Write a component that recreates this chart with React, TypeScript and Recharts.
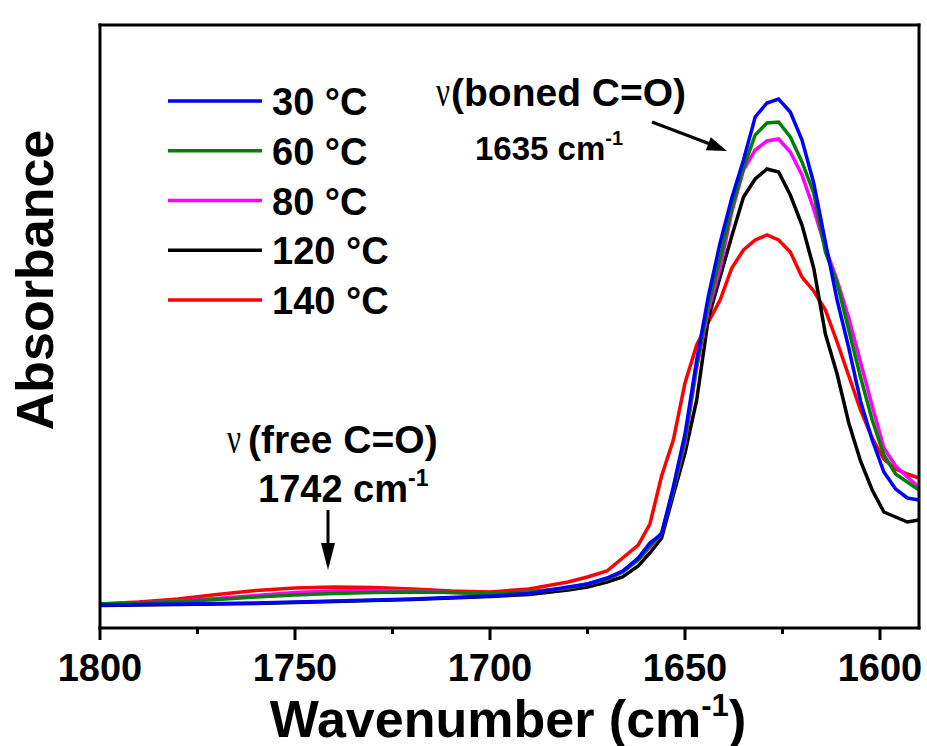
import React from "react";
import { LineChart, Line, XAxis, YAxis, Legend, Label } from "recharts";

// wavenumber grid (cm-1)
const wavenumbers = [
  1800, 1790, 1780, 1770, 1760, 1750, 1740, 1730, 1720, 1710, 1700, 1690, 1680, 1675, 1670, 1666,
  1662, 1659, 1656, 1653, 1650, 1647, 1644, 1641, 1638, 1635, 1632, 1629, 1626, 1623, 1620, 1617,
  1614, 1611, 1608, 1605, 1602, 1599, 1596, 1593, 1590,
];

// absorbance (a.u.) per temperature
const abs30 = [
  0.023, 0.0235, 0.024, 0.0245, 0.025, 0.026, 0.027, 0.028, 0.029, 0.0305, 0.032, 0.0345, 0.041, 0.044, 0.05, 0.057,
  0.07, 0.085, 0.094, 0.141, 0.194, 0.268, 0.332, 0.385, 0.43, 0.468, 0.511, 0.525, 0.529, 0.516, 0.488, 0.445,
  0.386, 0.328, 0.28, 0.227, 0.188, 0.156, 0.139, 0.13, 0.128,
];
const abs60 = [
  0.024, 0.025, 0.0265, 0.0285, 0.031, 0.033, 0.0345, 0.0355, 0.036, 0.0355, 0.0345, 0.036, 0.04, 0.044, 0.049, 0.056,
  0.068, 0.082, 0.095, 0.138, 0.188, 0.263, 0.323, 0.37, 0.42, 0.46, 0.493, 0.505, 0.506, 0.491, 0.466, 0.435,
  0.376, 0.345, 0.298, 0.251, 0.208, 0.173, 0.154, 0.146, 0.138,
];
const abs80 = [
  0.024, 0.025, 0.027, 0.0295, 0.0325, 0.0355, 0.037, 0.0375, 0.037, 0.0355, 0.034, 0.036, 0.04, 0.044, 0.049, 0.056,
  0.068, 0.081, 0.094, 0.138, 0.185, 0.26, 0.318, 0.36, 0.416, 0.458, 0.478, 0.487, 0.489, 0.476, 0.453, 0.419,
  0.38, 0.348, 0.31, 0.266, 0.222, 0.18, 0.162, 0.151, 0.141,
];
const abs120 = [
  0.0225, 0.023, 0.0235, 0.024, 0.0245, 0.0255, 0.0265, 0.0275, 0.0285, 0.03, 0.0315, 0.0335, 0.038, 0.041, 0.046, 0.051,
  0.062, 0.075, 0.09, 0.133, 0.175, 0.228, 0.31, 0.351, 0.392, 0.431, 0.449, 0.459, 0.456, 0.433, 0.403, 0.36,
  0.294, 0.254, 0.205, 0.167, 0.138, 0.116, 0.111, 0.106, 0.108,
];
const abs140 = [
  0.024, 0.026, 0.029, 0.0335, 0.0375, 0.04, 0.041, 0.0405, 0.039, 0.037, 0.036, 0.039, 0.046, 0.051, 0.057, 0.07,
  0.083, 0.104, 0.152, 0.188, 0.245, 0.283, 0.306, 0.328, 0.36, 0.378, 0.388, 0.393, 0.388, 0.376, 0.351, 0.337,
  0.318, 0.286, 0.252, 0.218, 0.19, 0.169, 0.159, 0.154, 0.15,
];

const seriesKeys = ["t30", "t60", "t80", "t120", "t140"];
const seriesLabels = ["30 °C", "60 °C", "80 °C", "120 °C", "140 °C"];
const seriesColors = ["#0000ff", "#008000", "#ff00ff", "#000000", "#ff0000"];
const seriesValues = [abs30, abs60, abs80, abs120, abs140];

const xTicks = [1800, 1775, 1750, 1725, 1700, 1675, 1650, 1625, 1600];
const majorTicks = [1800, 1750, 1700, 1650, 1600];

const data = wavenumbers.map((wn, i) => {
  const row: Record<string, number> = { wn };
  seriesKeys.forEach((k, s) => {
    row[k] = seriesValues[s][i];
  });
  return row;
});

const FONT = "'Liberation Sans', Arial, Helvetica, sans-serif";
const SERIF = "'Liberation Serif', 'DejaVu Serif', serif";

function XTick(props: any) {
  const { x, y, payload } = props;
  const major = majorTicks.includes(payload.value);
  return (
    <g>
      <line x1={x} x2={x} y1={y} y2={y + (major ? 12 : 6)} stroke="#000" strokeWidth={3} />
      {major && (
        <text x={x} y={y + 53} textAnchor="middle" fontFamily={FONT} fontWeight="bold" fontSize={38} fill="#000">
          {payload.value}
        </text>
      )}
    </g>
  );
}

function LegendBox() {
  return (
    <svg width={280} height={300}>
      {seriesLabels.map((label, i) => {
        const yy = 41 + i * 49.75;
        return (
          <g key={label}>
            <line x1={0} x2={94} y1={yy} y2={yy} stroke={seriesColors[i]} strokeWidth={3.5} />
            <text x={104} y={yy + 14} fontFamily={FONT} fontWeight="bold" fontSize={38} fill="#000">
              {label}
            </text>
          </g>
        );
      })}
    </svg>
  );
}

export default function App() {
  const axisStroke = { stroke: "#000", strokeWidth: 3, strokeLinecap: "square" as const };
  // draw order: 140 °C first, 30 °C last (on top)
  const order = [4, 3, 2, 1, 0];

  return (
    <div style={{ position: "absolute", left: 0, top: 0, width: 927, height: 746, background: "#fff" }}>
      <LineChart width={927} height={746} data={data} margin={{ top: 24, right: 7, bottom: 0, left: 99 }}>
        <XAxis
          dataKey="wn"
          type="number"
          domain={[1590, 1800]}
          reversed
          allowDataOverflow
          ticks={xTicks}
          interval={0}
          tickLine={false}
          tickSize={0}
          tickMargin={0}
          tick={<XTick />}
          axisLine={axisStroke}
          height={118}
        >
          <Label
            content={() => (
              <text x={508} y={737} textAnchor="middle" fontFamily={FONT} fontWeight="bold" fontSize={52} fill="#000">
                Wavenumber (cm
                <tspan fontSize={31} dy={-21}>-1</tspan>
                <tspan fontSize={52} dy={21}>)</tspan>
              </text>
            )}
          />
        </XAxis>
        <XAxis
          xAxisId="top"
          orientation="top"
          type="number"
          domain={[1590, 1800]}
          reversed
          tick={false}
          tickLine={false}
          axisLine={axisStroke}
          height={1}
        />
        <YAxis type="number" domain={[0, 0.603]} allowDataOverflow tick={false} tickLine={false} axisLine={axisStroke} width={1}>
          <Label
            content={() => (
              <text
                x={53}
                y={280}
                transform="rotate(-90 53 280)"
                textAnchor="middle"
                fontFamily={FONT}
                fontWeight="bold"
                fontSize={52}
                fill="#000"
              >
                Absorbance
              </text>
            )}
          />
        </YAxis>
        <YAxis
          yAxisId="right"
          orientation="right"
          type="number"
          domain={[0, 1]}
          tick={false}
          tickLine={false}
          axisLine={axisStroke}
          width={1}
        />
        <Legend
          layout="horizontal"
          verticalAlign="middle"
          align="center"
          content={() => <LegendBox />}
          wrapperStyle={{ position: "absolute", left: 168, top: 60, width: 280, height: 300 }}
        />
        {order.map((s) => (
          <Line
            key={seriesKeys[s]}
            dataKey={seriesKeys[s]}
            name={seriesLabels[s]}
            type="linear"
            stroke={seriesColors[s]}
            strokeWidth={3.5}
            dot={false}
            activeDot={false}
            isAnimationActive={false}
          />
        ))}
      </LineChart>

      <svg width={927} height={746} style={{ position: "absolute", left: 0, top: 0, pointerEvents: "none" }}>
        {/* bonded C=O band */}
        <text x={436} y={106} fontFamily={SERIF} fontSize={44} fill="#000" textLength={14} lengthAdjust="spacingAndGlyphs">
          ν
        </text>
        <text x={451} y={106} fontFamily={FONT} fontWeight="bold" fontSize={39} fill="#000">
          (boned C=O)
        </text>
        <text x={475} y={160} fontFamily={FONT} fontWeight="bold" fontSize={33} fill="#000">
          1635 cm
          <tspan fontSize={20} dy={-15}>-1</tspan>
        </text>
        <line x1={652} y1={122} x2={710} y2={144} stroke="#000" strokeWidth={3} />
        <polygon points="727,151 705.8,150.3 710.8,137.3" fill="#000" />

        {/* free C=O band */}
        <text x={227} y={453} fontFamily={SERIF} fontSize={44} fill="#000" textLength={14} lengthAdjust="spacingAndGlyphs">
          ν
        </text>
        <text x={248} y={453} fontFamily={FONT} fontWeight="bold" fontSize={39} fill="#000">
          (free C=O)
        </text>
        <text x={258} y={502} fontFamily={FONT} fontWeight="bold" fontSize={38} fill="#000">
          1742 cm
          <tspan fontSize={23} dy={-16}>-1</tspan>
        </text>
        <line x1={328} y1={510} x2={328} y2={548} stroke="#000" strokeWidth={3} />
        <polygon points="321,543 335,543 328,570" fill="#000" />
      </svg>
    </div>
  );
}
